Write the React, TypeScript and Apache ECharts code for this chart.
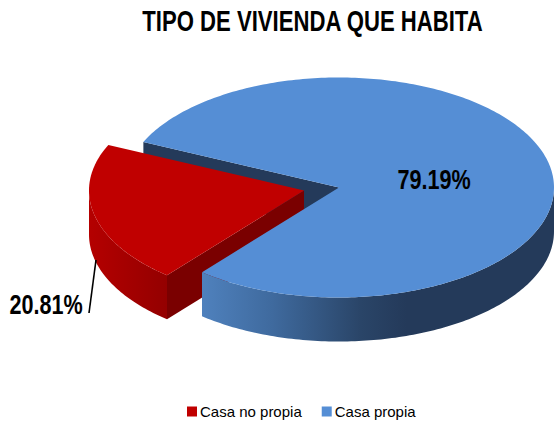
import React, { useEffect, useRef } from "react";
import * as echarts from "echarts";

const titleText = "TIPO DE VIVIENDA QUE HABITA";
const categories = ["Casa no propia", "Casa propia"];
const shares = [20.81, 79.19];
const colors = ["#C00000", "#558ED5"];

const FONT = "'Liberation Sans', Arial, sans-serif";
const RX = 215;
const RY = 110;
const DEPTH = 44;
const BLUE_C = { x: 339, y: 187.5 };
const RED_C = { x: 304, y: 190.5 };
const START = 294.5;
const NARROW = 0.8;

const rad = (d: number) => (d * Math.PI) / 180;
const pt = (c: { x: number; y: number }, deg: number, dy = 0): number[] => [
  c.x + RX * Math.sin(rad(deg)),
  c.y - RY * Math.cos(rad(deg)) + dy,
];
const arcPts = (c: { x: number; y: number }, a0: number, a1: number, dy = 0) => {
  const n = Math.max(2, Math.ceil(Math.abs(a1 - a0)));
  const out: number[][] = [];
  for (let i = 0; i <= n; i++) out.push(pt(c, a0 + ((a1 - a0) * i) / n, dy));
  return out;
};
const sweepOf = (v: number) => (v / 100) * 360;

const blueSideFill = new echarts.graphic.LinearGradient(
  202, 0, 554, 0,
  [
    { offset: 0, color: "#4F81BD" },
    { offset: 0.2, color: "#3F6A9E" },
    { offset: 0.45, color: "#2A4568" },
    { offset: 0.58, color: "#243A5A" },
    { offset: 1, color: "#243A5A" },
  ],
  true
);
const redSideFill = new echarts.graphic.LinearGradient(
  89, 0, 166, 0,
  [
    { offset: 0, color: "#B40000" },
    { offset: 1, color: "#940000" },
  ],
  true
);

const pctLabel = (v: number, x: number, y: number) => ({
  type: "text",
  x,
  y,
  scaleX: NARROW,
  style: {
    text: v.toFixed(2) + "%",
    font: `bold 27px ${FONT}`,
    fill: "#000",
    align: "center",
    verticalAlign: "middle",
  },
});

function renderBlueBack() {
  const a = pt(BLUE_C, START);
  const c = [BLUE_C.x, BLUE_C.y];
  return {
    type: "polygon",
    shape: { points: [a, c, [c[0], c[1] + DEPTH], [a[0], a[1] + DEPTH]] },
    style: { fill: "#243A5A" },
  };
}

function renderRed(_: any, api: any) {
  const v = api.value(0);
  const end = START;
  const begin = end - sweepOf(v);
  const c = [RED_C.x, RED_C.y];
  const p0 = pt(RED_C, begin);
  return {
    type: "group",
    children: [
      {
        type: "polygon",
        shape: { points: [c, p0, [p0[0], p0[1] + DEPTH], [c[0], c[1] + DEPTH]] },
        style: { fill: "#7A0000" },
      },
      {
        type: "polygon",
        shape: { points: [...arcPts(RED_C, begin, 270), ...arcPts(RED_C, 270, begin, DEPTH)] },
        style: { fill: redSideFill },
      },
      {
        type: "polygon",
        shape: { points: [c, ...arcPts(RED_C, begin, end)] },
        style: { fill: colors[0] },
      },
      {
        type: "line",
        shape: { x1: 96, y1: 260, x2: 89, y2: 313 },
        style: { stroke: "#000", lineWidth: 1.6 },
      },
      pctLabel(v, 46, 305),
    ],
  };
}

function renderBlue(_: any, api: any) {
  const v = api.value(0);
  const end = START + sweepOf(v);
  const c = [BLUE_C.x, BLUE_C.y];
  return {
    type: "group",
    children: [
      {
        type: "polygon",
        shape: { points: [...arcPts(BLUE_C, end, 450), ...arcPts(BLUE_C, 450, end, DEPTH)] },
        style: { fill: blueSideFill },
      },
      {
        type: "polygon",
        shape: { points: [c, ...arcPts(BLUE_C, START, end)] },
        style: { fill: colors[1] },
      },
      pctLabel(v, 434, 180),
    ],
  };
}

export default function App() {
  const ref = useRef<HTMLDivElement>(null);
  useEffect(() => {
    const chart = echarts.init(ref.current!, null, { renderer: "svg" });
    chart.setOption({
      animation: false,
      backgroundColor: "#fff",
      graphic: [
        {
          type: "text",
          x: 312.5,
          y: 21,
          scaleX: 0.763,
          style: {
            text: titleText,
            font: `bold 29px ${FONT}`,
            fill: "#000",
            align: "center",
            verticalAlign: "middle",
          },
        },
      ],
      legend: {
        data: categories,
        left: 187,
        top: 404,
        padding: 0,
        itemWidth: 10,
        itemHeight: 10,
        itemGap: 20,
        icon: "rect",
        textStyle: { fontFamily: FONT, fontSize: 15, color: "#000", padding: [0, 0, 0, -2] },
      },
      series: [
        {
          type: "custom",
          id: "blue-back",
          name: categories[1],
          coordinateSystem: "none",
          silent: true,
          z: 1,
          itemStyle: { color: colors[1] },
          data: [[shares[1]]],
          renderItem: renderBlueBack,
        },
        {
          type: "custom",
          name: categories[0],
          coordinateSystem: "none",
          z: 2,
          itemStyle: { color: colors[0] },
          data: [[shares[0]]],
          renderItem: renderRed,
        },
        {
          type: "custom",
          id: "blue-main",
          name: categories[1],
          coordinateSystem: "none",
          z: 3,
          itemStyle: { color: colors[1] },
          data: [[shares[1]]],
          renderItem: renderBlue,
        },
      ],
    });
    return () => chart.dispose();
  }, []);
  return <div ref={ref} style={{ position: "fixed", left: 0, top: 0, width: 554, height: 423 }} />;
}
